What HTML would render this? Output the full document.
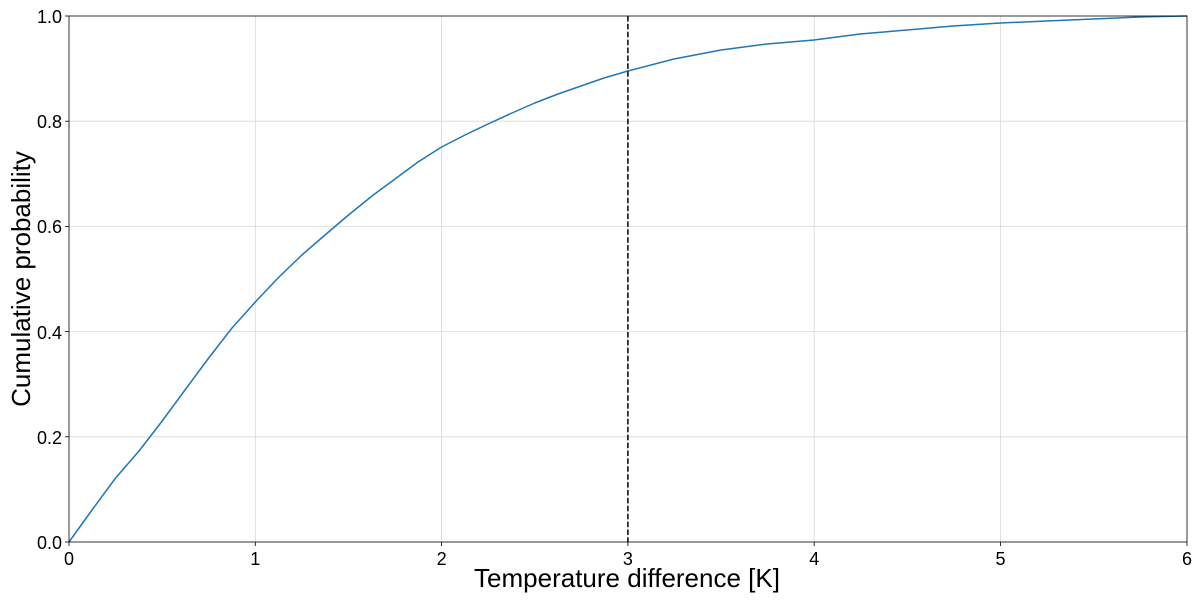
<!DOCTYPE html>
<html><head><style>body{margin:0;background:#fff}svg{display:block}text{font-family:"Liberation Sans","DejaVu Sans",sans-serif;fill:#000}</style></head><body>
<svg width="1200" height="600" xmlns="http://www.w3.org/2000/svg">
<g stroke="#d8d8d8" stroke-width="0.8">
<line x1="255.3" y1="16" x2="255.3" y2="542"/><line x1="441.6" y1="16" x2="441.6" y2="542"/><line x1="627.9" y1="16" x2="627.9" y2="542"/><line x1="814.2" y1="16" x2="814.2" y2="542"/><line x1="1000.5" y1="16" x2="1000.5" y2="542"/>
<line x1="69" y1="436.8" x2="1187" y2="436.8"/><line x1="69" y1="331.6" x2="1187" y2="331.6"/><line x1="69" y1="226.4" x2="1187" y2="226.4"/><line x1="69" y1="121.2" x2="1187" y2="121.2"/>
</g>
<path d="M69,542 L92,510 L115.6,478 L139,451 L162.2,421 L185,390 L208.7,358 L232,328 L255.3,302 L278,278 L301.9,255 L325,235 L348.5,215 L372,196 L395,179 L418,162 L441.6,147 L465,135 L488,124 L512,113 L534.8,103 L558,94 L581,86 L604,78 L627.9,71 L674,59 L721,50 L767,44 L814,40 L860,34 L907,30 L953,26 L1000.5,23 L1047,21 L1093,19 L1140,17 L1187,16" fill="none" stroke="#1f77b4" stroke-width="1.5" stroke-linejoin="round"/>
<line x1="627.9" y1="16" x2="627.9" y2="542" stroke="#000" stroke-width="1.5" stroke-dasharray="5.5,2.4"/>
<rect x="69" y="16" width="1118" height="526" fill="none" stroke="#000" stroke-width="0.8"/>
<g stroke="#000" stroke-width="0.8">
<line x1="69" y1="542" x2="69" y2="546"/><line x1="255.3" y1="542" x2="255.3" y2="546"/><line x1="441.6" y1="542" x2="441.6" y2="546"/><line x1="627.9" y1="542" x2="627.9" y2="546"/><line x1="814.2" y1="542" x2="814.2" y2="546"/><line x1="1000.5" y1="542" x2="1000.5" y2="546"/><line x1="1187" y1="542" x2="1187" y2="546"/>
<line x1="65" y1="542" x2="69" y2="542"/><line x1="65" y1="436.8" x2="69" y2="436.8"/><line x1="65" y1="331.6" x2="69" y2="331.6"/><line x1="65" y1="226.4" x2="69" y2="226.4"/><line x1="65" y1="121.2" x2="69" y2="121.2"/><line x1="65" y1="16" x2="69" y2="16"/>
</g>
<g font-size="18" text-anchor="middle">
<text x="69" y="565">0</text><text x="255.3" y="565">1</text><text x="441.6" y="565">2</text><text x="627.9" y="565">3</text><text x="814.2" y="565">4</text><text x="1000.5" y="565">5</text><text x="1187" y="565">6</text>
</g>
<g font-size="18" text-anchor="end">
<text x="62" y="549">0.0</text><text x="62" y="444">0.2</text><text x="62" y="339">0.4</text><text x="62" y="233">0.6</text><text x="62" y="128">0.8</text><text x="62" y="23">1.0</text>
</g>
<text x="627" y="587" font-size="26" text-anchor="middle">Temperature difference [K]</text>
<text transform="translate(30,279) rotate(-90)" font-size="26" text-anchor="middle">Cumulative probability</text>
</svg>
</body></html>
